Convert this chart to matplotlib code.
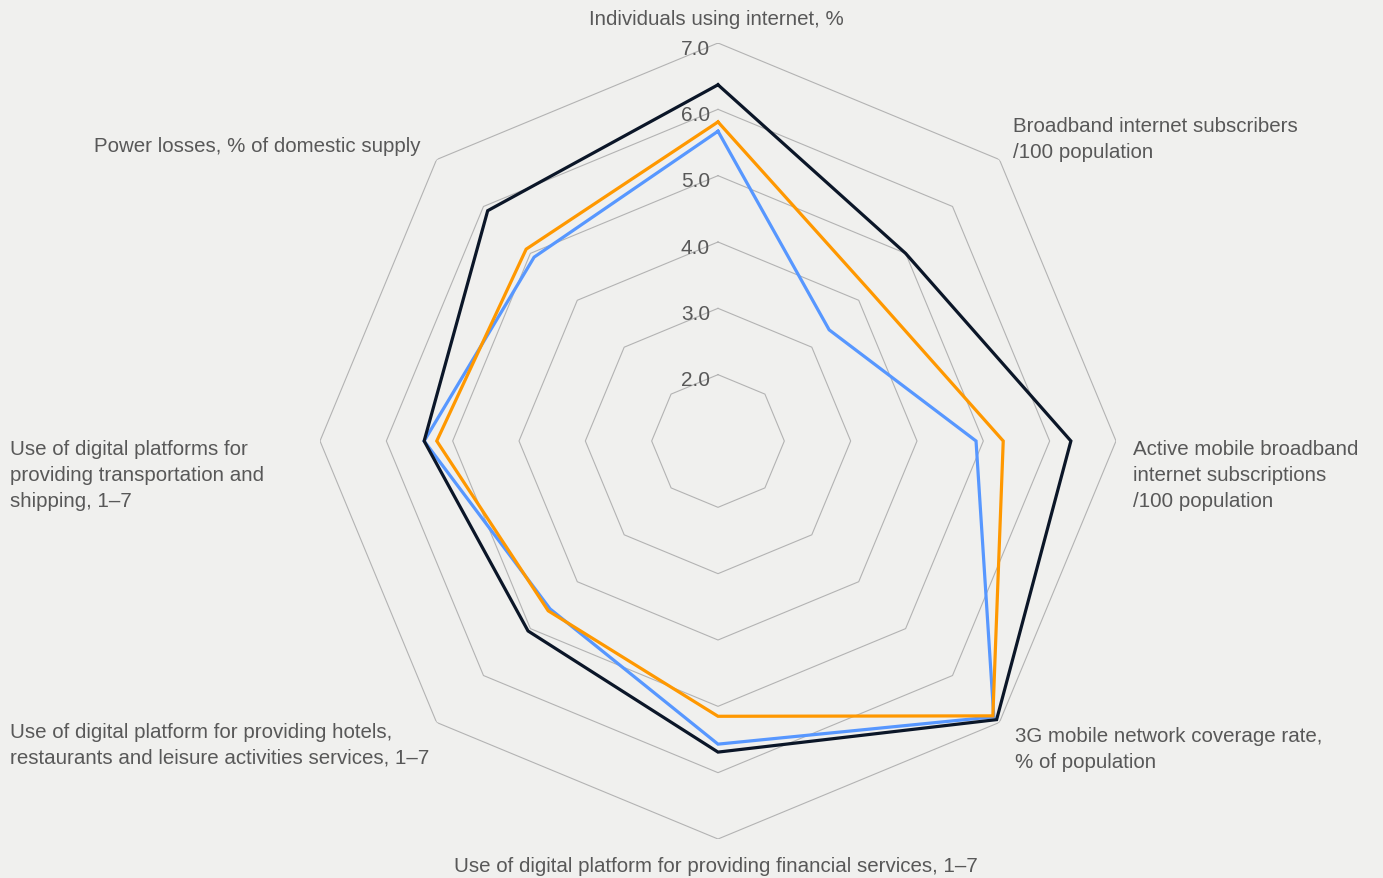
import numpy as np
import matplotlib
matplotlib.use("Agg")
import matplotlib.pyplot as plt

categories = [
    "Individuals using internet, %",
    "Broadband internet subscribers\n/100 population",
    "Active mobile broadband\ninternet subscriptions\n/100 population",
    "3G mobile network coverage rate,\n% of population",
    "Use of digital platform for providing financial services, 1–7",
    "Use of digital platform for providing hotels,\nrestaurants and leisure activities services, 1–7",
    "Use of digital platforms for\nproviding transportation and\nshipping, 1–7",
    "Power losses, % of domestic supply",
]
series_black = [6.37, 5.00, 6.32, 6.94, 5.69, 5.05, 5.43, 5.91]
series_orange = [5.81, 4.22, 5.30, 6.86, 5.15, 4.62, 5.24, 5.09]
series_blue = [5.67, 3.37, 4.89, 6.88, 5.57, 4.58, 5.43, 4.92]
tick_values = [2.0, 3.0, 4.0, 5.0, 6.0, 7.0]
r_min, r_max = 1.0, 7.0

BG = "#f0f0ee"
W, H = 1383, 879
fig = plt.figure(figsize=(W / 100, H / 100), dpi=100, facecolor=BG)
cx, cy, R = 718, 442, 398
ax = fig.add_axes([(cx - R) / W, (H - cy - R) / H, 2 * R / W, 2 * R / H], projection="polar")
ax.set_facecolor(BG)
ax.set_theta_offset(np.pi / 2)
ax.set_theta_direction(-1)
ax.set_ylim(r_min, r_max)
ax.grid(False)
ax.spines["polar"].set_visible(False)
ax.set_xticks([])
ax.set_yticks([])
ax.patch.set_alpha(0)

n = len(categories)
angles = np.arange(n) * 2 * np.pi / n
ang_closed = np.concatenate([angles, angles[:1]])

for tv in tick_values:
    ax.plot(ang_closed, [tv] * (n + 1), color="#b3b3b3", lw=0.8, zorder=1)

font = dict(family=["Liberation Sans", "DejaVu Sans"], color="#585858")

for tv in tick_values:
    ax.annotate(f"{tv:.1f}", xy=(0, tv), xytext=(-8, -5), textcoords="offset pixels",
                ha="right", va="center", fontsize=15, **font)

for vals, col in [(series_blue, "#5797ff"), (series_orange, "#ff9800"), (series_black, "#0b1628")]:
    ax.plot(ang_closed, vals + vals[:1], color=col, lw=2.3, zorder=3, solid_joinstyle="miter")

def place(text, x, y, ha):
    for i, line in enumerate(text.split("\n")):
        fig.text(x / W, 1 - (y + i * 26) / H, line, ha=ha, va="baseline", fontsize=14.8, **font)

place(categories[0], 716, 25, "center")
place(categories[1], 1013, 132, "left")
place(categories[2], 1133, 455, "left")
place(categories[3], 1015, 742, "left")
place(categories[4], 716, 872, "center")
place(categories[5], 10, 738, "left")
place(categories[6], 10, 455, "left")
place(categories[7], 420, 152, "right")

fig.savefig("out.png", dpi=100, facecolor=BG)
